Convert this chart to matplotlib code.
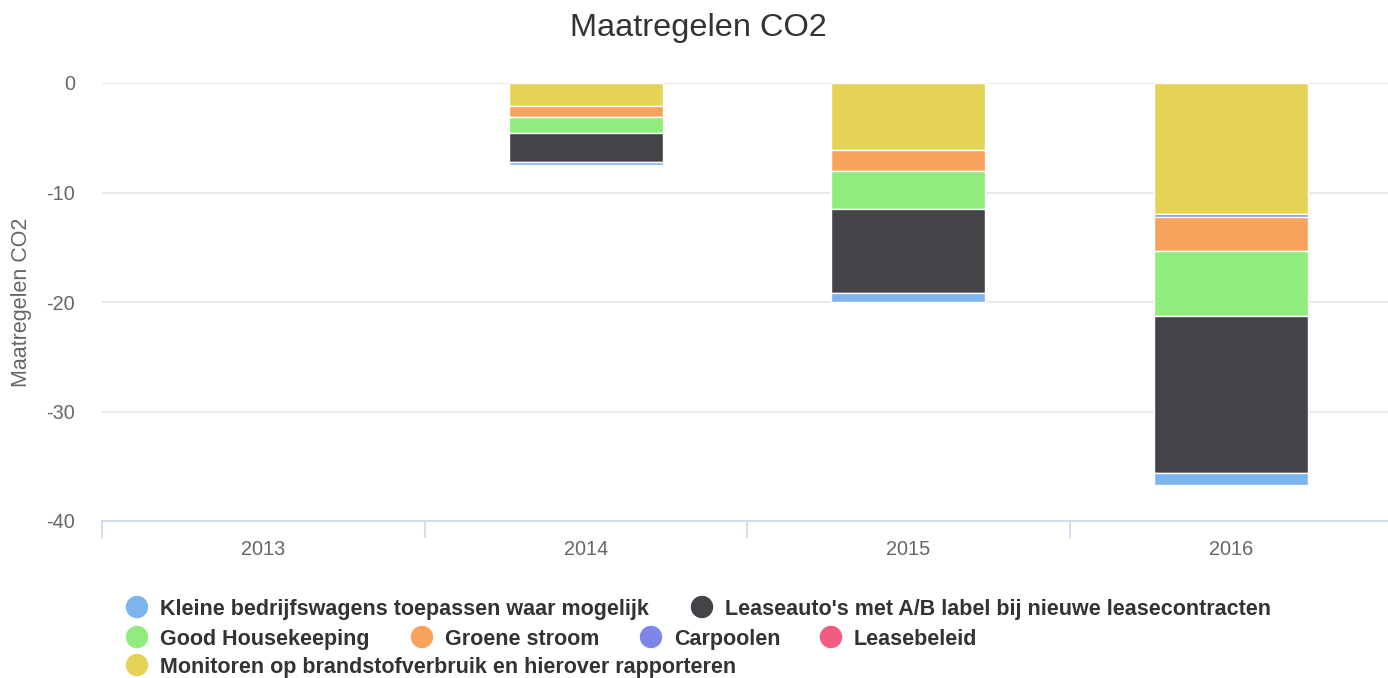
import numpy as np
import matplotlib
matplotlib.use("Agg")
from matplotlib import pyplot as plt

plt.rcParams['font.family'] = ['Liberation Sans', 'DejaVu Sans']

# data
years = ["2013", "2014", "2015", "2016"]
series_names = [
    "Kleine bedrijfswagens toepassen waar mogelijk",
    "Leaseauto's met A/B label bij nieuwe leasecontracten",
    "Good Housekeeping",
    "Groene stroom",
    "Carpoolen",
    "Leasebeleid",
    "Monitoren op brandstofverbruik en hierover rapporteren",
]
kleine = [np.nan, -0.3, -0.8, -1.1]
leaseauto = [np.nan, -2.6, -7.7, -14.3]
housekeeping = [np.nan, -1.5, -3.5, -6.0]
groene = [np.nan, -1.0, -1.9, -3.1]
carpoolen = [np.nan, np.nan, np.nan, -0.2]
leasebeleid = [np.nan, np.nan, np.nan, np.nan]
monitoren = [np.nan, -2.1, -6.1, -12.0]
yticks = [0, -10, -20, -30, -40]

colors = ["#7cb5ec", "#434348", "#90ed7d", "#f7a35c", "#8085e9", "#f15c80", "#e4d354"]
series = [kleine, leaseauto, housekeeping, groene, carpoolen, leasebeleid, monitoren]

W, H = 1388, 678
fig = plt.figure(figsize=(W / 100, H / 100), dpi=100)
ax = fig.add_axes([102 / W, 1 - 521 / H, 1290 / W, (521 - 83) / H])

x = np.arange(len(years))
# highcharts stacks the last series next to zero
bottom = np.zeros(len(years))
for vals, c in list(zip(series, colors))[::-1]:
    v = np.array(vals, dtype=float)
    ax.bar(x, v, width=0.476, bottom=bottom, color=c, edgecolor="white",
           linewidth=1, zorder=3)
    bottom = bottom + np.nan_to_num(v)

ax.set_xlim(-0.5, 3.5)
ax.set_ylim(-40, 0)
ax.set_yticks(yticks)
ax.set_yticklabels([str(t) for t in yticks])
ax.yaxis.grid(True, color="#e6e6e6", linewidth=1.2, zorder=0)
ax.set_xticks(x)
ax.set_xticklabels(years)
ax.set_xticks(np.arange(-0.5, 4.0, 1.0), minor=True)
ax.tick_params(axis="x", which="major", length=0, pad=14, labelsize=14.3, colors="#666666")
ax.tick_params(axis="x", which="minor", length=12, width=1.2, color="#ccd6eb")
ax.tick_params(axis="y", length=0, pad=19.5, labelsize=14.3, colors="#666666")
for s in ["top", "right", "left"]:
    ax.spines[s].set_visible(False)
ax.spines["bottom"].set_color("#ccd6eb")
ax.spines["bottom"].set_linewidth(1.2)
ax.set_axisbelow(True)

fig.text(22 / W, 1 - 302 / H, "Maatregelen CO2", rotation=90, ha="center", va="center",
         fontsize=15.5, color="#666666")
fig.text(698 / W, 1 - 28 / H, "Maatregelen CO2", ha="center", va="center",
         fontsize=23.4, color="#333333")

# legend, drawn by hand to follow the wrapped rows
legend_rows = [0, 0, 1, 1, 1, 1, 2]
legend_x = [137, 702, 137, 422, 651, 831, 137]
row_y = [607, 637, 665]
for name, c, r, lx in zip(series_names, colors, legend_rows, legend_x):
    yy = 1 - row_y[r] / H
    fig.patches.append(matplotlib.patches.Ellipse((lx / W, yy), 21 / W, 21 / H,
                                                  transform=fig.transFigure,
                                                  color=c, figure=fig))
    fig.text((lx + 23) / W, yy, name, ha="left", va="center_baseline",
             fontsize=15.5, fontweight="bold", color="#333333")

fig.savefig("out.png", dpi=100)
